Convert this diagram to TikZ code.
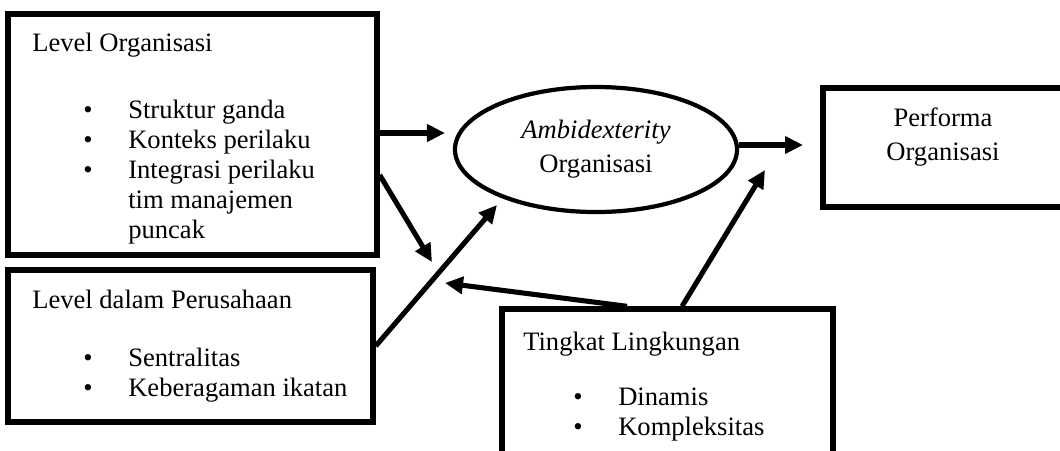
\documentclass[tikz,border=0pt]{standalone}
\usepackage{fontspec}
\setmainfont{Liberation Serif}
\usetikzlibrary{arrows.meta,shapes.geometric}

\newcommand*{\picw}{1060}
\newcommand*{\pich}{450}
\newcommand*{\itm}[1]{\makebox[1.125cm][l]{\textbullet}#1}
\newcommand*{\cont}[1]{\hspace*{1.125cm}#1}

\begin{document}
\begin{tikzpicture}
[
	x=0.025cm, y=-0.025cm,
	every node/.style={font=\fontsize{18.9pt}{21.3pt}\selectfont},
	box/.style={rectangle,draw,line width=3.8pt,inner sep=0pt},
	txt/.style={inner sep=0pt,align=left},
	mid/.style={inner sep=0pt,align=center,font=\fontsize{18.9pt}{24.2pt}\selectfont},
	arr/.style={-{Triangle[length=0.45cm,width=0.42cm]},line width=3.6pt}
]

	% page
	\useasboundingbox (0,0) rectangle (\picw,\pich);
	\clip (0,0) rectangle (\picw,\pich);

	% boxes
	\node[box,minimum width=9.225cm,minimum height=6.025cm] (orgbox) at (192.5,134.5) {};
	\node[box,minimum width=9.125cm,minimum height=3.8cm] (firmbox) at (190.5,346) {};
	\node[box,minimum width=6.175cm,minimum height=2.975cm] (perfbox) at (946.5,147.5) {};
	\node[box,minimum width=8.275cm,minimum height=4.025cm] (envbox) at (667.5,389.5) {};
	\node[mid,ellipse,draw,line width=3pt,minimum width=7.05cm,minimum height=3.125cm] (ambi) at (596,149.5)
		{\textit{Ambidexterity}\\Organisasi};

	% texts
	\node[txt,anchor=base west] (orgtitle) at (32,51) {Level Organisasi};
	\node[txt,anchor=north west] (orglist) at (83,100) {\itm{Struktur ganda}\\ \itm{Konteks perilaku}\\
		\itm{Integrasi perilaku}\\ \cont{tim manajemen}\\ \cont{puncak}};

	\node[txt,anchor=base west] (firmtitle) at (32,308) {Level dalam Perusahaan};
	\node[txt,anchor=north west] (firmlist) at (83,348) {\itm{Sentralitas}\\ \itm{Keberagaman ikatan}};

	\node[txt,anchor=base west] (envtitle) at (523,350) {Tingkat Lingkungan};
	\node[txt,anchor=north west] (envlist) at (573,388) {\itm{Dinamis}\\ \itm{Kompleksitas}};

	\node[mid] (perftext) at (943,137) {Performa\\Organisasi};

	% arrows
	\coordinate (orgout) at (445,133);
	\coordinate (meetA) at (432,262);
	\coordinate (ambiin) at (497,205);
	\coordinate (meetB) at (445,283);
	\coordinate (envout) at (765,170);
	\coordinate (perfin) at (803,145);

	\draw[arr] (orgbox.east |- orgout) -- (orgout);
	\draw[arr] (orgbox.east |- 0,175) -- (meetA);
	\draw[arr] (firmbox.east) -- (ambiin);
	\draw[arr] (envbox.north -| 627,0) -- (meetB);
	\draw[arr] (envbox.north -| 682,0) -- (envout);
	\draw[arr] (ambi.east |- perfin) -- (perfin);

\end{tikzpicture}
\end{document}
